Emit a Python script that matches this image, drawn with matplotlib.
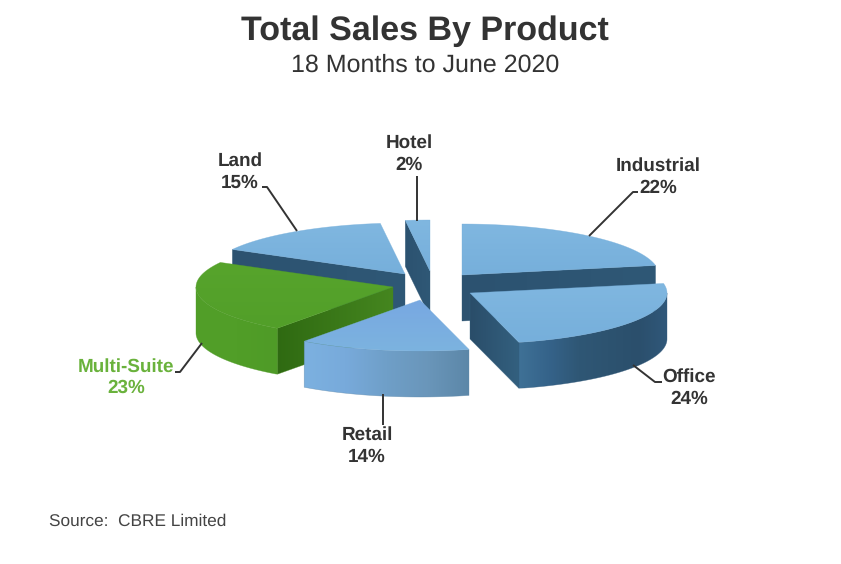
import numpy as np
import matplotlib
matplotlib.use("Agg")
import matplotlib.pyplot as plt
from matplotlib.colors import LinearSegmentedColormap
from matplotlib.patches import Polygon

plt.rcParams['font.family'] = ['Liberation Sans', 'DejaVu Sans']
plt.rcParams['text.hinting'] = 'none'

products = ['Industrial', 'Office', 'Retail', 'Multi-Suite', 'Land', 'Hotel']
shares = [22, 24, 14, 23, 15, 2]

# where each exploded slice has its point, pixels of the original picture
centres = [(462, 275), (470, 293), (420, 300), (393, 287), (405, 274), (430, 271)]
draw_order = [4, 5, 0, 3, 1, 2]
label_pos = [(658, 177), (689, 388), (367, 446), (126, 377.5), (240, 172), (409, 154)]
leaders = [
    [(589, 236), (633, 192), (638, 192)],
    [(633, 365), (655, 382), (662, 382)],
    [(383, 394), (383, 425)],
    [(202, 343), (180, 372), (175, 372)],
    [(297, 231), (267, 187), (262, 187)],
    [(417, 176), (417, 221)],
]

RX, RY, DEPTH = 197, 51, 46

blue_top = ['#80b7e0', '#76afdb']
dark_cut = ['#2c5270', '#2f5876']
tops = [blue_top, blue_top, ['#78a8e2', '#7cb3df'], ['#57a42c', '#529f29'], blue_top, blue_top]
walls = [
    dark_cut,
    ['#3f7196', '#35638a', '#2f5775', '#2d5370', '#2b4f6c', '#30587a'],
    ['#7cb1e0', '#78aadb', '#6f9fc8', '#6a96ba', '#5c87a8'],
    ['#529f29', '#519e28', '#4f9b27'],
    dark_cut,
    dark_cut,
]
cuts = [dark_cut, ['#2a4d69', '#33607f'], dark_cut, ['#2f6a12', '#45861f'], dark_cut, dark_cut]


def arc(cx, cy, t0, t1, n=80):
    t = np.radians(np.linspace(t0, t1, n))
    return np.column_stack([cx + RX * np.cos(t), cy - RY * np.sin(t)])


def paint(ax, pts, colors, z, vertical=False):
    # gradient image clipped to the outline
    pts = np.asarray(pts)
    x0, y0 = pts.min(axis=0)
    x1, y1 = pts.max(axis=0)
    grad = np.linspace(0, 1, 256).reshape(-1, 1) if vertical else np.linspace(0, 1, 256).reshape(1, -1)
    cmap = LinearSegmentedColormap.from_list('g', colors)
    im = ax.imshow(grad, cmap=cmap, extent=(x0, x1, y1, y0), aspect='auto', zorder=z, interpolation='bilinear')
    clip = Polygon(pts, closed=True, transform=ax.transData, fc='none', ec='none')
    ax.add_patch(clip)
    im.set_clip_path(clip)
    # thin edge so the clipped image does not look jagged
    ax.add_patch(Polygon(pts, closed=True, fc='none', ec=colors[-1], lw=0.4, zorder=z, alpha=0.6))


fig = plt.figure(figsize=(8.41, 5.64), dpi=100)
ax = fig.add_axes([0, 0, 1, 1])

starts = 90 - np.cumsum([0] + shares[:-1]) * 3.6
ends = 90 - np.cumsum(shares) * 3.6

for rank, i in enumerate(draw_order):
    cx, cy = centres[i]
    a, b = starts[i], ends[i]
    z = 2 + rank * 5
    rim = arc(cx, cy, a, b)
    top = np.vstack([[(cx, cy)], rim])
    down = np.array([0, DEPTH])

    # cut faces, only those turned towards the viewer
    for ang, normal, edge in [(a, a + 90, rim[0]), (b, b - 90, rim[-1])]:
        if np.sin(np.radians(normal)) < -1e-6:
            face = [(cx, cy), tuple(edge), tuple(edge + down), (cx, cy + DEPTH)]
            paint(ax, face, cuts[i], z)

    # outer wall, the part of the rim on the near side
    lo, hi = b, a
    ranges = []
    for k in range(-2, 2):
        w0, w1 = max(lo, -180 + 360 * k), min(hi, 360 * k)
        if w1 > w0:
            ranges.append((w1, w0))
    for w1, w0 in ranges:
        edge = arc(cx, cy, w0, w1)
        wall = np.vstack([edge, (edge + down)[::-1]])
        paint(ax, wall, walls[i], z + 1)

    paint(ax, top, tops[i], z + 2, vertical=True)

for i, name in enumerate(products):
    col = '#6ab23c' if name == 'Multi-Suite' else '#333333'
    ax.text(label_pos[i][0], label_pos[i][1], f"{name}\n{shares[i]}%", ha='center', va='center',
            fontsize=13.6, fontweight='bold', color=col, linespacing=1.29, zorder=60)
    xs, ys = zip(*leaders[i])
    ax.plot(xs, ys, color='#333333', lw=1.4, zorder=55, solid_capstyle='butt')

ax.text(425, 31, 'Total Sales By Product', ha='center', va='center', fontsize=24.5, fontweight='bold', color='#333333')
ax.text(425, 65, '18 Months to June 2020', ha='center', va='center', fontsize=18, color='#333333')
ax.text(49, 521, 'Source:  CBRE Limited', ha='left', va='center', fontsize=12.4, color='#444444')

ax.set_xlim(0, 841)
ax.set_ylim(564, 0)
ax.axis('off')
fig.savefig('out.png', dpi=100, facecolor='white')
